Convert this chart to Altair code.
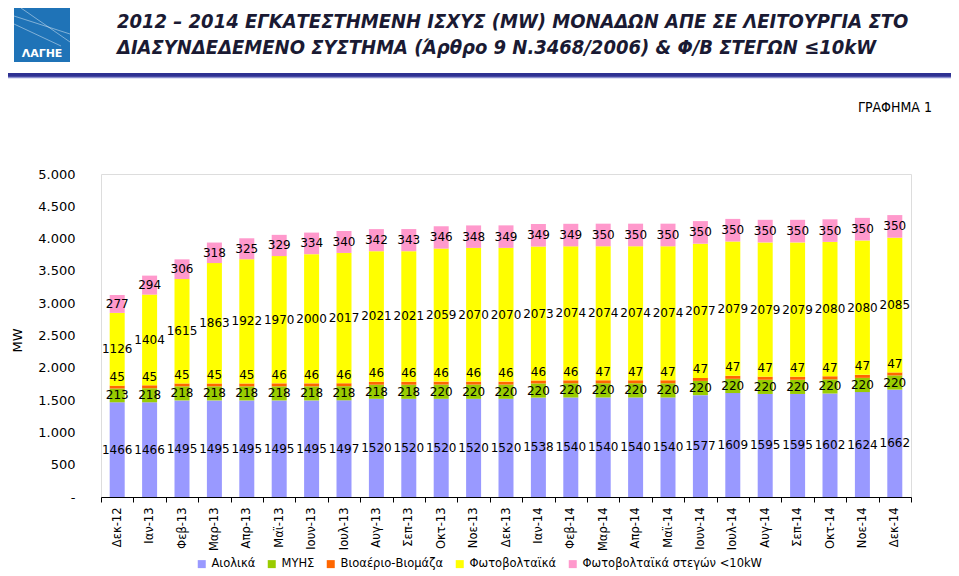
import altair as alt
import pandas as pd

months = ["Δεκ-12", "Ιαν-13", "Φεβ-13", "Μαρ-13", "Απρ-13", "Μαϊ-13", "Ιουν-13",
          "Ιουλ-13", "Αυγ-13", "Σεπ-13", "Οκτ-13", "Νοε-13", "Δεκ-13", "Ιαν-14",
          "Φεβ-14", "Μαρ-14", "Απρ-14", "Μαϊ-14", "Ιουν-14", "Ιουλ-14", "Αυγ-14",
          "Σεπ-14", "Οκτ-14", "Νοε-14", "Δεκ-14"]

series = ["Αιολικά", "ΜΥΗΣ", "Βιοαέριο-Βιομάζα", "Φωτοβολταϊκά", "Φωτοβολταϊκά στεγών <10kW"]
colors = ["#9999FF", "#99CC00", "#FF6600", "#FFFF00", "#FF99CC"]

wind = [1466, 1466, 1495, 1495, 1495, 1495, 1495, 1497, 1520, 1520, 1520, 1520, 1520,
        1538, 1540, 1540, 1540, 1540, 1577, 1609, 1595, 1595, 1602, 1624, 1662]
hydro = [213, 218, 218, 218, 218, 218, 218, 218, 218, 218, 220, 220, 220,
         220, 220, 220, 220, 220, 220, 220, 220, 220, 220, 220, 220]
bio = [45, 45, 45, 45, 45, 46, 46, 46, 46, 46, 46, 46, 46,
       46, 46, 47, 47, 47, 47, 47, 47, 47, 47, 47, 47]
pv = [1126, 1404, 1615, 1863, 1922, 1970, 2000, 2017, 2021, 2021, 2059, 2070, 2070,
      2073, 2074, 2074, 2074, 2074, 2077, 2079, 2079, 2079, 2080, 2080, 2085]
roof = [277, 294, 306, 318, 325, 329, 334, 340, 342, 343, 346, 348, 349,
        349, 349, 350, 350, 350, 350, 350, 350, 350, 350, 350, 350]

title1 = "2012 – 2014  ΕΓΚΑΤΕΣΤΗΜΕΝΗ ΙΣΧΥΣ (MW)  ΜΟΝΑΔΩΝ ΑΠΕ  ΣΕ ΛΕΙΤΟΥΡΓΙΑ ΣΤΟ"
title2 = "ΔΙΑΣΥΝΔΕΔΕΜΕΝΟ ΣΥΣΤΗΜΑ (Άρθρο 9 Ν.3468/2006) & Φ/Β ΣΤΕΓΩΝ ≤10kW"
subtitle = "ΓΡΑΦΗΜΑ 1"

rows = []
for si, (name, vals) in enumerate(zip(series, [wind, hydro, bio, pv, roof])):
    for m, v in zip(months, vals):
        rows.append({"month": m, "series": name, "value": v, "order": si})
df = pd.DataFrame(rows)

FONT = "DejaVu Sans"
COND = "DejaVu Sans Condensed, Liberation Sans"

x_axis = alt.Axis(title=None, labelAngle=-90, labelFontSize=11.5, labelFont=FONT,
                  labelColor="black", domainColor="black", tickColor="black",
                  tickSize=5, tickBand="extent", labelPadding=5, grid=False)
y_axis = alt.Axis(values=list(range(0, 5001, 500)),
                  labelExpr="datum.value == 0 ? '-\u00a0\u00a0\u00a0\u00a0\u00a0' : replace(format(datum.value, ','), ',', '.')",
                  domain=False, ticks=False, grid=False, labelPadding=26,
                  labelFontSize=13, labelFont=FONT, labelColor="black",
                  title="MW", titleFont=FONT, titleFontSize=13, titleFontWeight="normal",
                  titleColor="black", titleX=-84, titleY=166, titleAngle=-90,
                  titleAlign="center", titleBaseline="middle")
yscale = alt.Scale(domain=[0, 5000], nice=False)

base = alt.Chart(df).transform_stack(
    stack="value", groupby=["month"], as_=["y0", "y1"],
    sort=[alt.SortField("order", order="ascending")]
).transform_calculate(mid="(datum.y0 + datum.y1) / 2").encode(
    x=alt.X("month:N", sort=months, axis=x_axis,
            scale=alt.Scale(paddingInner=0.0, paddingOuter=0.0))
)

bars = base.mark_bar(size=15).encode(
    y=alt.Y("y0:Q", scale=yscale, axis=y_axis),
    y2="y1:Q",
    color=alt.Color("series:N", scale=alt.Scale(domain=series, range=colors),
                    legend=alt.Legend(orient="none", legendX=95, legendY=384,
                                      direction="horizontal", title=None,
                                      symbolType="square", symbolSize=64,
                                      symbolStrokeWidth=0, labelFont=FONT,
                                      labelFontSize=11.5, labelColor="black",
                                      labelLimit=400, columnPadding=10,
                                      labelOffset=4, symbolOffset=0)),
    order=alt.Order("order:Q"),
)

labels = base.transform_filter(alt.datum.order != 2).mark_text(
    font=FONT, fontSize=12, color="black"
).encode(y=alt.Y("mid:Q", scale=yscale, axis=y_axis), text="value:Q")

labels_bio = base.transform_filter(alt.datum.order == 2).mark_text(
    font=FONT, fontSize=12, color="black", dy=-10
).encode(y=alt.Y("mid:Q", scale=yscale, axis=y_axis), text="value:Q")

t1 = alt.Chart(pd.DataFrame({"t": [title1]})).mark_text(
    font=COND, fontSize=20, fontWeight="bold", fontStyle="italic",
    align="left", baseline="middle", color="#1a1a33"
).encode(x=alt.value(16), y=alt.value(-152), text="t:N")
t2 = alt.Chart(pd.DataFrame({"t": [title2]})).mark_text(
    font=COND, fontSize=20, fontWeight="bold", fontStyle="italic",
    align="left", baseline="middle", color="#1a1a33"
).encode(x=alt.value(16), y=alt.value(-126), text="t:N")
t3 = alt.Chart(pd.DataFrame({"t": [subtitle]})).mark_text(
    font=COND, fontSize=14, align="right", baseline="middle",
    color="black"
).encode(x=alt.value(831), y=alt.value(-66), text="t:N")

line = alt.Chart(pd.DataFrame({"t": [0]})).mark_rule(color="#2e3192", strokeWidth=4).encode(
    x=alt.value(-93), x2=alt.value(850), y=alt.value(-99))
line2 = alt.Chart(pd.DataFrame({"t": [0]})).mark_rule(color="#8c8fd0", strokeWidth=1.5).encode(
    x=alt.value(-93), x2=alt.value(850), y=alt.value(-96.5))

logo = alt.Chart(pd.DataFrame({"t": [0]})).mark_rect(color="#1f73b7").encode(
    x=alt.value(-87), x2=alt.value(-31), y=alt.value(-166), y2=alt.value(-112))
logo_lines = alt.Chart(pd.DataFrame({"t": [0]})).mark_rule(
    color="white", strokeWidth=0.8, opacity=0.55).encode(
    x=alt.value(-87), x2=alt.value(-31), y=alt.value(-158), y2=alt.value(-140))
logo_lines2 = alt.Chart(pd.DataFrame({"t": [0]})).mark_rule(
    color="white", strokeWidth=0.8, opacity=0.55).encode(
    x=alt.value(-80), x2=alt.value(-31), y=alt.value(-166), y2=alt.value(-132))
logo_lines3 = alt.Chart(pd.DataFrame({"t": [0]})).mark_rule(
    color="white", strokeWidth=0.8, opacity=0.55).encode(
    x=alt.value(-87), x2=alt.value(-40), y=alt.value(-150), y2=alt.value(-128))
logo_text = alt.Chart(pd.DataFrame({"t": ["ΛΑΓΗΕ"]})).mark_text(
    font="DejaVu Sans", fontSize=11, fontWeight="bold", color="white",
    align="center", baseline="middle"
).encode(x=alt.value(-59), y=alt.value(-120), text="t:N")

chart = alt.layer(
    bars, labels, labels_bio, t1, t2, t3, line, line2,
    logo, logo_lines, logo_lines2, logo_lines3, logo_text
).properties(
    width=810, height=323,
    padding={"left": 93, "top": 166, "right": 40, "bottom": 75},
    autosize=alt.AutoSizeParams(type="none"),
).configure_view(strokeWidth=0).configure(background="white")

chart.save("out.html", embed_options={"renderer": "svg", "actions": False})
